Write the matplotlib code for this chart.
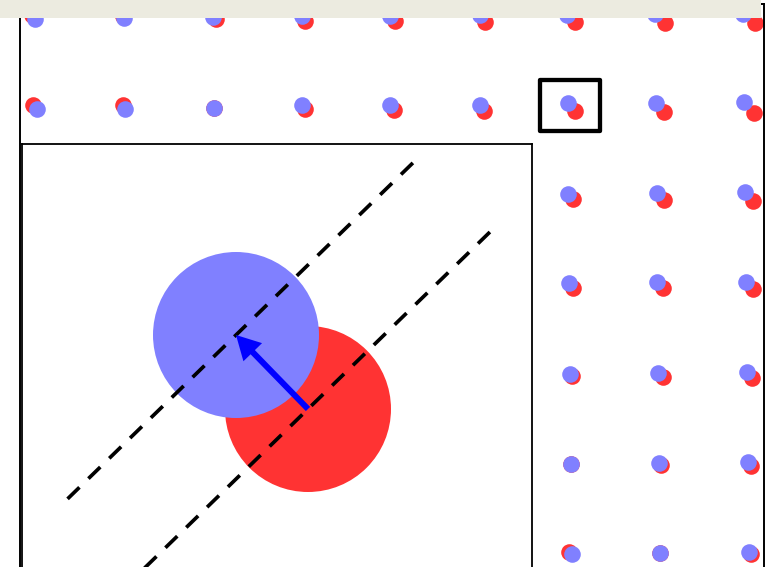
import matplotlib
matplotlib.use("Agg")
import matplotlib.pyplot as plt
import numpy as np
from matplotlib.patches import Circle, Rectangle, FancyArrow

FIG_W, FIG_H, DPI = 773, 567, 100

# ---------------------------------------------------------------
# Dot centres (pixel units of the original)
# blue = reference position, red = displaced position
# ---------------------------------------------------------------
# row 0 (mostly hidden under the title bar)
blue_x_r0 = [35.0, 124.3, 213.0, 301.5, 390.0, 480.0, 566.5, 655.0, 743.0]
blue_y_r0 = [18.7, 18.0, 16.5, 16.0, 15.5, 15.0, 14.5, 14.0, 13.5]
red_x_r0 = [32.0, 123.0, 215.5, 305.0, 395.0, 485.0, 575.0, 665.0, 755.0]
red_y_r0 = [15.0, 16.0, 18.7, 20.5, 20.5, 21.5, 21.5, 22.5, 23.0]

# row 1
blue_x_r1 = [37.0, 125.0, 214.0, 302.3, 390.0, 480.0, 567.7, 655.7, 744.3]
blue_y_r1 = [108.7, 108.7, 107.7, 105.3, 105.3, 104.7, 103.3, 103.0, 102.0]
red_x_r1 = [33.3, 123.3, 214.0, 304.7, 394.3, 484.0, 574.9, 664.3, 754.0]
red_y_r1 = [104.7, 105.3, 107.7, 108.7, 109.7, 110.7, 110.7, 112.3, 112.7]

# rows 2..6, right-hand three columns (the rest sit behind the inset)
blue_x_r26 = [568.3, 656.7, 745.0,
              569.3, 657.3, 745.7,
              570.0, 658.3, 746.7,
              571.0, 659.0, 747.7,
              571.7, 660.0, 749.0]
blue_y_r26 = [194.0, 193.3, 192.3,
              283.3, 282.3, 281.7,
              374.3, 373.3, 371.7,
              464.0, 462.7, 461.7,
              554.0, 553.3, 552.3]
red_x_r26 = [573.3, 664.0, 753.3,
             573.3, 662.7, 752.7,
             572.3, 662.7, 752.0,
             571.0, 661.3, 751.0,
             569.3, 660.0, 750.7]
red_y_r26 = [199.3, 200.0, 201.0,
             287.7, 288.3, 289.3,
             376.3, 377.0, 377.7,
             464.0, 465.0, 466.0,
             551.7, 553.3, 554.0]

blue_x = blue_x_r0 + blue_x_r1 + blue_x_r26
blue_y = blue_y_r0 + blue_y_r1 + blue_y_r26
red_x = red_x_r0 + red_x_r1 + red_x_r26
red_y = red_y_r0 + red_y_r1 + red_y_r26

# highlighted dot (row 1, column 6) shown enlarged in the inset
focus_index = 9 + 6

# ---------------------------------------------------------------
DOT_R = 8.3               # dot radius (px)
BLUE = "#8080FF"
RED = "#FF3333"
ARROW_BLUE = "#0000FF"
BAR = "#ECEBE0"

fig = plt.figure(figsize=(FIG_W / DPI, FIG_H / DPI), dpi=DPI)
fig.patch.set_facecolor("white")


def fig_rect(x0, y0, x1, y1):
    """pixel box (top-left origin) -> figure fraction rect"""
    return [x0 / FIG_W, 1 - y1 / FIG_H, (x1 - x0) / FIG_W, (y1 - y0) / FIG_H]


# main axes: 1 data unit = 1 pixel
MX0, MY0, MX1, MY1 = 20.0, 3.5, 763.5, 620.0
ax = fig.add_axes(fig_rect(MX0, MY0, MX1, MY1))
ax.set_xlim(MX0, MX1)
ax.set_ylim(MY1, MY0)
ax.set_xticks([])
ax.set_yticks([])
for s in ax.spines.values():
    s.set_linewidth(1.4)
    s.set_color("black")

dot_size = (2 * DOT_R * 72 / DPI) ** 2
ax.scatter(red_x, red_y, s=dot_size, c=RED, linewidths=0, zorder=2)
ax.scatter(blue_x, blue_y, s=dot_size, c=BLUE, linewidths=0, zorder=3)

# highlight box around the focused dot
bx, by = blue_x[focus_index], blue_y[focus_index]
box = Rectangle((bx - 28.2, by - 23.6), 60.0, 51.3, fill=False,
                edgecolor="black", linewidth=3.1, joinstyle="round", zorder=4)
ax.add_patch(box)

# ---------------------------------------------------------------
# inset: 10x enlargement of the focused dot
# ---------------------------------------------------------------
ZOOM = 10.0
IX0, IY0, IX1, IY1 = 21.5, 143.5, 531.5, 620.0
BLUE_IN_X, BLUE_IN_Y = 236.0, 335.0   # where the blue centre lands in the inset
ins = fig.add_axes(fig_rect(IX0, IY0, IX1, IY1))
ins.set_zorder(5)
xl = bx - (BLUE_IN_X - IX0) / ZOOM
yt = by - (BLUE_IN_Y - IY0) / ZOOM
ins.set_xlim(xl, xl + (IX1 - IX0) / ZOOM)
ins.set_ylim(yt + (IY1 - IY0) / ZOOM, yt)
ins.set_xticks([])
ins.set_yticks([])
ins.set_facecolor("white")
for s in ins.spines.values():
    s.set_linewidth(1.3)
    s.set_color("black")

rx, ry = red_x[focus_index], red_y[focus_index]
ins.add_patch(Circle((rx, ry), DOT_R, facecolor=RED, edgecolor="none", zorder=2))
ins.add_patch(Circle((bx, by), DOT_R, facecolor=BLUE, edgecolor="none", zorder=3))

# dashed lines perpendicular to the displacement through each centre
d = np.array([bx - rx, by - ry])
u = np.array([d[1], -d[0]]) / np.hypot(*d)
if u[0] < 0:
    u = -u
t = np.array([-23.5, 25.5])
for cx, cy in [(bx, by), (rx, ry)]:
    ins.plot(cx + t * u[0], cy + t * u[1], color="black", linewidth=2.65,
             linestyle=(0, (4.5, 3.4)), solid_capstyle="butt",
             dash_capstyle="butt", zorder=4)

ins.add_patch(FancyArrow(rx, ry, d[0], d[1], width=0.6, head_width=2.6,
                         head_length=2.4, length_includes_head=True,
                         color=ARROW_BLUE, linewidth=0, zorder=5))

# title-bar strip across the top
fig.add_artist(Rectangle((0, 1 - 18.2 / FIG_H), 761 / FIG_W, 18.2 / FIG_H,
                         transform=fig.transFigure, facecolor=BAR,
                         edgecolor="none", zorder=20))

fig.savefig("out.png", dpi=DPI)
